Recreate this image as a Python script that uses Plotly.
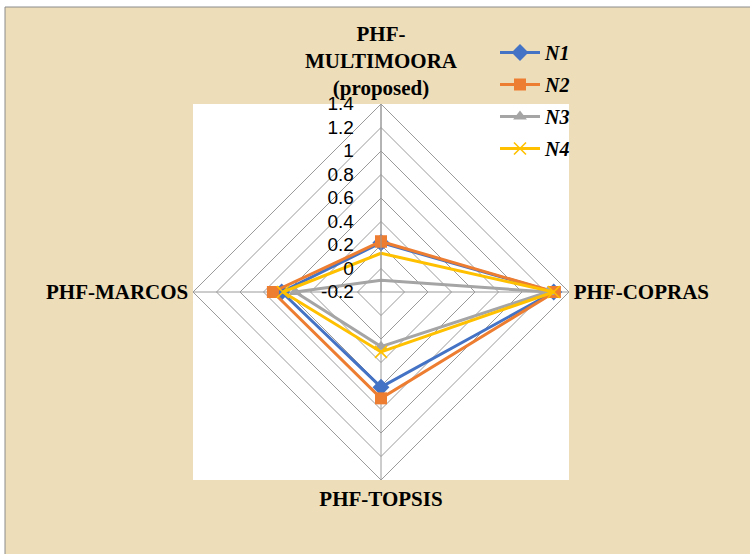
import plotly.graph_objects as go

# Methods compared on each spoke (clockwise from the top)
methods = ["PHF-<br>MULTIMOORA<br>(proposed)", "PHF-COPRAS", "PHF-TOPSIS", "PHF-MARCOS"]

# Scores of each alternative per method
n1 = [0.22, 1.27, 0.61, 0.645]
n2 = [0.23, 1.28, 0.705, 0.72]
n3 = [-0.10, 1.22, 0.265, 0.53]
n4 = [0.13, 1.27, 0.31, 0.635]

radial_ticks = [-0.2, 0, 0.2, 0.4, 0.6, 0.8, 1, 1.2, 1.4]
radial_text = ["-0.2", "0", "0.2", "0.4", "0.6", "0.8", "1", "1.2", "1.4"]

series = [
    ("N1", n1, "#4472C4", "diamond", 13, None),
    ("N2", n2, "#ED7D31", "square", 12, None),
    ("N3", n3, "#A5A5A5", "triangle-up", 12, None),
    ("N4", n4, "#FFC000", "x-thin", 12, 1.6),
]

fig = go.Figure()
for i, (name, vals, color, symbol, size, lw) in enumerate(series):
    marker = dict(symbol=symbol, size=size, color=color)
    if lw:
        marker["line"] = dict(color=color, width=lw)
    fig.add_trace(go.Scatterpolar(
        r=vals + vals[:1],
        theta=methods + methods[:1],
        name=name,
        mode="lines+markers",
        line=dict(color=color, width=3),
        marker=marker,
        legendgroup=name,
    ))

W, H = 750, 554
# Plot square (bounding box of the radar)
px0, px1, py0, py1 = 193, 569, 104, 480

fig.update_layout(
    width=W, height=H,
    margin=dict(l=0, r=0, t=0, b=0),
    paper_bgcolor="white",
    showlegend=True,
    legend=dict(
        x=495 / W, y=1 - 33 / H, xanchor="left", yanchor="top",
        bgcolor="rgba(0,0,0,0)",
        font=dict(family="Liberation Serif", size=20, color="black",
                  weight="bold", style="italic"),
        tracegroupgap=3,
        itemwidth=40,
    ),
    polar=dict(
        domain=dict(x=[px0 / W, px1 / W], y=[1 - py1 / H, 1 - py0 / H]),
        bgcolor="white",
        gridshape="linear",
        radialaxis=dict(
            range=[-0.2, 1.4],
            tickvals=radial_ticks,
            ticktext=radial_text,
            angle=90,
            tickangle=90,
            side="counterclockwise",
            showline=True,
            linecolor="#9A9A9A",
            gridcolor="#9A9A9A",
            gridwidth=1,
            ticks="outside",
            ticklen=20,
            tickcolor="rgba(0,0,0,0)",
            tickfont=dict(family="Liberation Sans", size=19, color="black"),
        ),
        angularaxis=dict(
            direction="clockwise",
            rotation=90,
            showline=True,
            linecolor="#9A9A9A",
            gridcolor="#9A9A9A",
            ticks="",
            tickfont=dict(family="Liberation Serif", size=21, color="black",
                          weight="bold"),
        ),
    ),
    shapes=[
        # parchment panel
        dict(type="rect", xref="paper", yref="paper",
             x0=5 / W, x1=1.02, y0=-0.02, y1=1 - 7 / H,
             fillcolor="#EDDDB8", line=dict(color="#8C8C8C", width=1),
             layer="below"),
        # white plot square
        dict(type="rect", xref="paper", yref="paper",
             x0=px0 / W, x1=px1 / W, y0=1 - py1 / H, y1=1 - py0 / H,
             fillcolor="white", line=dict(width=0), layer="below"),
    ],
)

fig.write_html("out.html")
